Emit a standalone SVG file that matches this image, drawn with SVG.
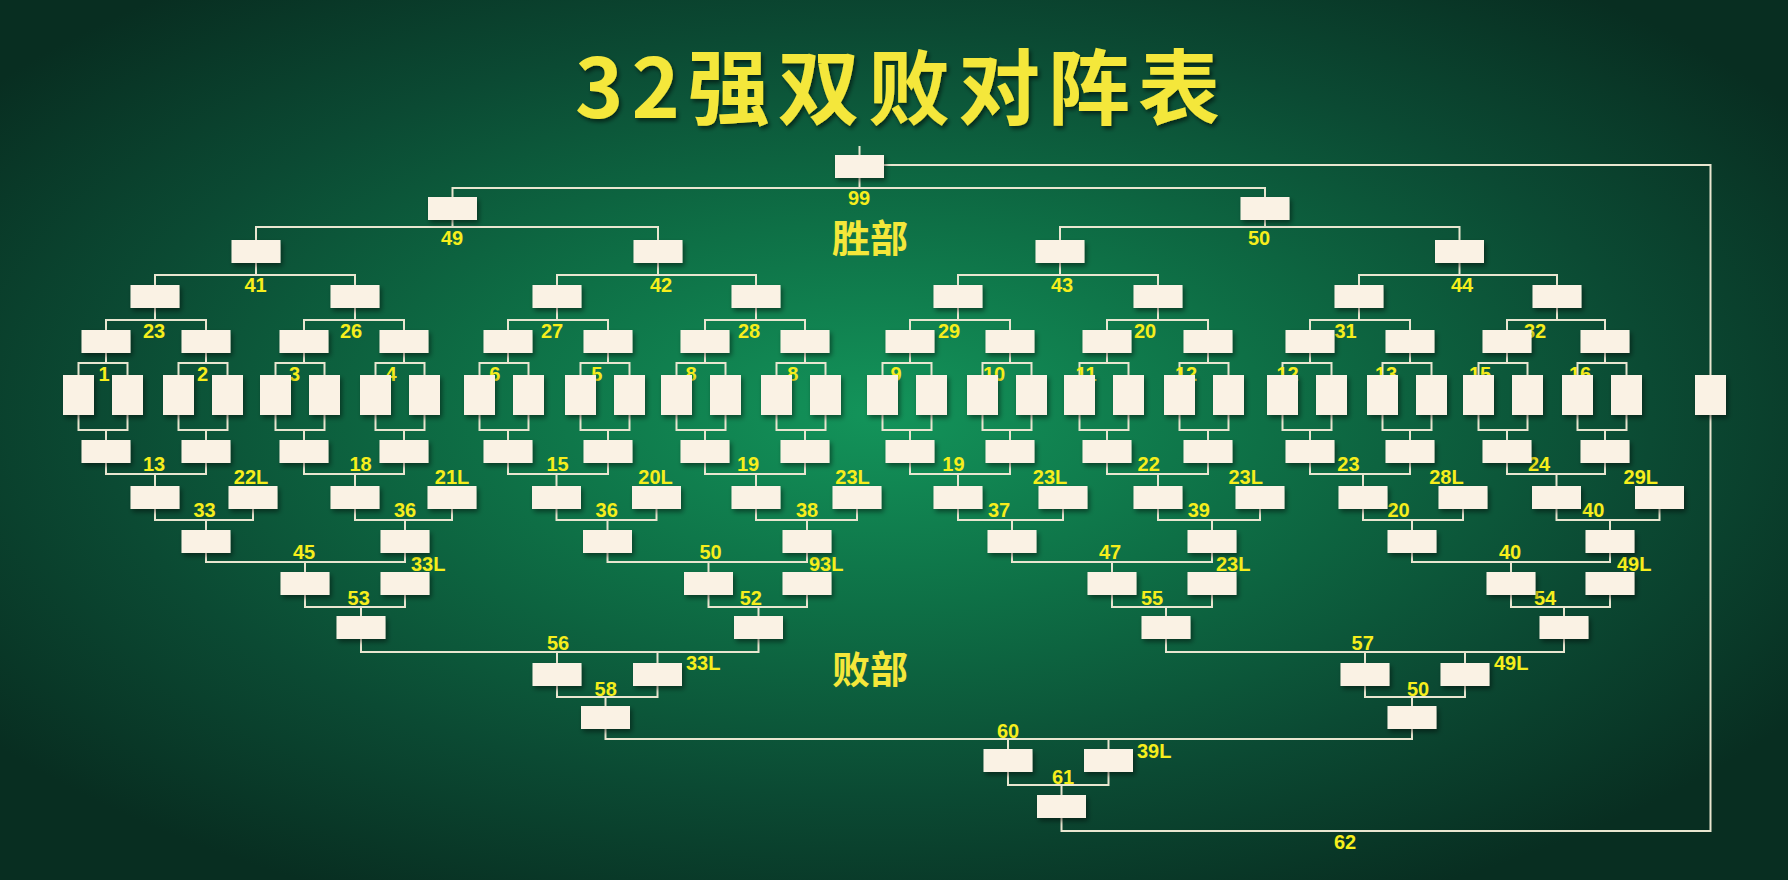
<svg xmlns="http://www.w3.org/2000/svg" xmlns:xlink="http://www.w3.org/1999/xlink" width="1788" height="880" viewBox="0 0 1788 880">
<defs>
<radialGradient id="bg" cx="0.49" cy="0.47" r="0.62">
<stop offset="0" stop-color="#13945a"/>
<stop offset="0.35" stop-color="#0e7046"/>
<stop offset="0.7" stop-color="#0b4a33"/>
<stop offset="1" stop-color="#082e21"/>
</radialGradient>
<filter id="sh" x="-30%" y="-30%" width="170%" height="180%">
<feDropShadow dx="2" dy="3" stdDeviation="2.5" flood-color="#000" flood-opacity="0.45"/>
</filter>
<filter id="tsh" x="-10%" y="-20%" width="120%" height="150%">
<feDropShadow dx="2" dy="3" stdDeviation="2" flood-color="#000" flood-opacity="0.55"/>
</filter>
<rect id="hb" width="49" height="23" fill="#FAF2E4" filter="url(#sh)"/>
<rect id="tb" width="31" height="40" fill="#FAF2E4" filter="url(#sh)"/>
</defs>
<style>
.c{fill:none;stroke:#E9E6D0;stroke-width:2}
.t{font-family:"Liberation Sans",Arial,sans-serif;font-weight:bold;font-size:20px;fill:#F6EE1C;text-anchor:middle}
.s{text-anchor:start}
.big{font-family:"Noto Sans CJK SC",sans-serif;font-weight:bold;fill:#F4E73A}
</style>
<rect width="1788" height="880" fill="url(#bg)"/>

<text class="big" x="575" y="118" font-size="82" textLength="645" lengthAdjust="spacing" filter="url(#tsh)">32强双败对阵表</text>
<text class="big" x="870" y="252" font-size="38" text-anchor="middle" fill="#F2E21E">胜部</text>
<text class="big" x="870" y="683" font-size="38" text-anchor="middle" fill="#F2E21E">败部</text>

<g id="connectors" class="c">
<path d="M859.5 146V155M859.5 178V188M452.5 197V188H1265V197"/>
<path d="M884 165H1710.5V375M1710.5 415V831H1061.5V818"/>
<path d="M256 240V227H658V240M452.5 220V227M1060 240V227H1459.5V240M1265 220V227"/>
<path d="M155 285V275H355V285M256 263V275M557 285V275H756V285M658 263V275M958 285V275H1158V285M1060 263V275M1359 285V275H1557V285M1459.5 263V275"/>
<path d="M106 330V320H206V330M155 308V320M304 330V320H404V330M355 308V320M508 330V320H608V330M557 308V320M705 330V320H805V330M756 308V320M910 330V320H1010V330M958 308V320M1107 330V320H1208V330M1158 308V320M1310 330V320H1410V330M1359 308V320M1507 330V320H1605V330M1557 308V320"/>
<path d="M78.5 375V363H127.5V375M106 353V363M178.5 375V363H227.5V375M206 353V363M275.5 375V363H324.5V375M304 353V363M375.5 375V363H424.5V375M404 353V363M479.5 375V363H528.5V375M508 353V363M580.5 375V363H629.5V375M608 353V363M676.5 375V363H725.5V375M705 353V363M776.5 375V363H825.5V375M805 353V363M882.5 375V363H931.5V375M910 353V363M982.5 375V363H1031.5V375M1010 353V363M1079.5 375V363H1128.5V375M1107 353V363M1179.5 375V363H1228.5V375M1208 353V363M1282.5 375V363H1331.5V375M1310 353V363M1382.5 375V363H1431.5V375M1410 353V363M1478.5 375V363H1527.5V375M1507 353V363M1577.5 375V363H1626.5V375M1605 353V363"/>
<path d="M78.5 415V430H127.5V415M106 430V440M178.5 415V430H227.5V415M206 430V440M275.5 415V430H324.5V415M304 430V440M375.5 415V430H424.5V415M404 430V440M479.5 415V430H528.5V415M508 430V440M580.5 415V430H629.5V415M608 430V440M676.5 415V430H725.5V415M705 430V440M776.5 415V430H825.5V415M805 430V440M882.5 415V430H931.5V415M910 430V440M982.5 415V430H1031.5V415M1010 430V440M1079.5 415V430H1128.5V415M1107 430V440M1179.5 415V430H1228.5V415M1208 430V440M1282.5 415V430H1331.5V415M1310 430V440M1382.5 415V430H1431.5V415M1410 430V440M1478.5 415V430H1527.5V415M1507 430V440M1577.5 415V430H1626.5V415M1605 430V440"/>
<path d="M106 463V474H206V463M155 474V486M304 463V474H404V463M355 474V486M508 463V474H608V463M556.5 474V486M705 463V474H805V463M756 474V486M910 463V474H1010V463M958 474V486M1107 463V474H1208V463M1158 474V486M1310 463V474H1410V463M1363 474V486M1507 463V474H1605V463M1556.5 474V486"/>
<path d="M155 509V520H253V509M206 520V530M355 509V520H452V509M405 520V530M556.5 509V520H656.5V509M607.5 520V530M756 509V520H857V509M807 520V530M958 509V520H1063V509M1012 520V530M1158 509V520H1260V509M1212 520V530M1363 509V520H1463V509M1412 520V530M1556.5 509V520H1659.5V509M1610 520V530"/>
<path d="M206 553V562H405V553M305 562V572M607.5 553V562H807V553M708.5 562V572M1012 553V562H1212V553M1112 562V572M1412 553V562H1610V553M1511 562V572"/>
<path d="M305 595V607H405V595M361 607V616M708.5 595V607H807V595M758.5 607V616M1112 595V607H1212V595M1166 607V616M1511 595V607H1610V595M1564 607V616"/>
<path d="M361 639V652H758.5V639M557 652V663M657.5 652V663M1166 639V652H1564V639M1365 652V663M1465 652V663"/>
<path d="M557 686V697H657.5V686M605.5 697V706M1365 686V697H1465V686M1412 697V706"/>
<path d="M605.5 729V739H1412V729M1008 739V749M1108.5 739V749"/>
<path d="M1008 772V785H1108.5V772M1061.5 785V795"/>
</g>

<g id="labels" class="t">
<text x="859" y="205">99</text>
<text x="452" y="245">49</text><text x="1259" y="245">50</text>
<text x="255.5" y="292">41</text><text x="661" y="292">42</text><text x="1062" y="292">43</text><text x="1462" y="292">44</text>
<text x="154" y="338">23</text><text x="351" y="338">26</text><text x="552" y="338">27</text><text x="749" y="338">28</text><text x="949" y="338">29</text><text x="1145" y="338">20</text><text x="1345.5" y="338">31</text><text x="1535" y="338">32</text>
<text x="104" y="381">1</text><text x="202.6" y="381">2</text><text x="294.5" y="381">3</text><text x="391" y="381">4</text><text x="494.7" y="381">6</text><text x="596.7" y="381">5</text><text x="691" y="381">8</text><text x="792.7" y="381">8</text><text x="896" y="381">9</text><text x="994" y="381">10</text><text x="1086" y="381">11</text><text x="1186" y="381">12</text><text x="1287.6" y="381">12</text><text x="1386" y="381">13</text><text x="1480" y="381">15</text><text x="1580" y="381">16</text>
<text x="154" y="471">13</text><text x="360.5" y="471">18</text><text x="557.6" y="471">15</text><text x="748" y="471">19</text><text x="953.4" y="471">19</text><text x="1148.7" y="471">22</text><text x="1348.4" y="471">23</text><text x="1539" y="471">24</text>
<text x="251" y="484">22L</text><text x="452" y="484">21L</text><text x="655.5" y="484">20L</text><text x="852.5" y="484">23L</text><text x="1050" y="484">23L</text><text x="1245.7" y="484">23L</text><text x="1446.4" y="484">28L</text><text x="1640.8" y="484">29L</text>
<text x="204.5" y="517">33</text><text x="405" y="517">36</text><text x="606.7" y="517">36</text><text x="807" y="517">38</text><text x="999" y="517">37</text><text x="1198.8" y="517">39</text><text x="1398.5" y="517">20</text><text x="1593.3" y="517">40</text>
<text x="304" y="559">45</text><text x="710.6" y="559">50</text><text x="1110" y="559">47</text><text x="1510" y="559">40</text>
<text class="s" x="411" y="571">33L</text><text class="s" x="809" y="571">93L</text><text class="s" x="1216" y="571">23L</text><text class="s" x="1617" y="571">49L</text>
<text x="358.7" y="605">53</text><text x="750.8" y="605">52</text><text x="1152" y="605">55</text><text x="1545" y="605">54</text>
<text x="558" y="650">56</text><text x="1362.7" y="650">57</text>
<text class="s" x="686" y="670">33L</text><text class="s" x="1494" y="670">49L</text>
<text x="605.7" y="696">58</text><text x="1418" y="696">50</text>
<text x="1008" y="738">60</text>
<text class="s" x="1137" y="758">39L</text>
<text x="1063" y="784">61</text>
<text x="1345" y="849">62</text>
</g>

<g id="n99"><use href="#hb" x="835" y="155"/></g>
<g id="n49"><use href="#hb" x="428" y="197"/></g>
<g id="n50"><use href="#hb" x="1240.5" y="197"/></g>
<g id="q41"><use href="#hb" x="231.5" y="240"/></g>
<g id="q42"><use href="#hb" x="633.5" y="240"/></g>
<g id="q43"><use href="#hb" x="1035.5" y="240"/></g>
<g id="q44"><use href="#hb" x="1435" y="240"/></g>
<g id="r16-1"><use href="#hb" x="130.5" y="285"/></g>
<g id="r16-2"><use href="#hb" x="330.5" y="285"/></g>
<g id="r16-3"><use href="#hb" x="532.5" y="285"/></g>
<g id="r16-4"><use href="#hb" x="731.5" y="285"/></g>
<g id="r16-5"><use href="#hb" x="933.5" y="285"/></g>
<g id="r16-6"><use href="#hb" x="1133.5" y="285"/></g>
<g id="r16-7"><use href="#hb" x="1334.5" y="285"/></g>
<g id="r16-8"><use href="#hb" x="1532.5" y="285"/></g>
<g id="w1"><use href="#hb" x="81.5" y="330"/></g>
<g id="w2"><use href="#hb" x="181.5" y="330"/></g>
<g id="w3"><use href="#hb" x="279.5" y="330"/></g>
<g id="w4"><use href="#hb" x="379.5" y="330"/></g>
<g id="w5"><use href="#hb" x="483.5" y="330"/></g>
<g id="w6"><use href="#hb" x="583.5" y="330"/></g>
<g id="w7"><use href="#hb" x="680.5" y="330"/></g>
<g id="w8"><use href="#hb" x="780.5" y="330"/></g>
<g id="w9"><use href="#hb" x="885.5" y="330"/></g>
<g id="w10"><use href="#hb" x="985.5" y="330"/></g>
<g id="w11"><use href="#hb" x="1082.5" y="330"/></g>
<g id="w12"><use href="#hb" x="1183.5" y="330"/></g>
<g id="w13"><use href="#hb" x="1285.5" y="330"/></g>
<g id="w14"><use href="#hb" x="1385.5" y="330"/></g>
<g id="w15"><use href="#hb" x="1482.5" y="330"/></g>
<g id="w16"><use href="#hb" x="1580.5" y="330"/></g>
<g id="p1"><use href="#tb" x="63" y="375"/><use href="#tb" x="112" y="375"/></g>
<g id="p2"><use href="#tb" x="163" y="375"/><use href="#tb" x="212" y="375"/></g>
<g id="p3"><use href="#tb" x="260" y="375"/><use href="#tb" x="309" y="375"/></g>
<g id="p4"><use href="#tb" x="360" y="375"/><use href="#tb" x="409" y="375"/></g>
<g id="p5"><use href="#tb" x="464" y="375"/><use href="#tb" x="513" y="375"/></g>
<g id="p6"><use href="#tb" x="565" y="375"/><use href="#tb" x="614" y="375"/></g>
<g id="p7"><use href="#tb" x="661" y="375"/><use href="#tb" x="710" y="375"/></g>
<g id="p8"><use href="#tb" x="761" y="375"/><use href="#tb" x="810" y="375"/></g>
<g id="p9"><use href="#tb" x="867" y="375"/><use href="#tb" x="916" y="375"/></g>
<g id="p10"><use href="#tb" x="967" y="375"/><use href="#tb" x="1016" y="375"/></g>
<g id="p11"><use href="#tb" x="1064" y="375"/><use href="#tb" x="1113" y="375"/></g>
<g id="p12"><use href="#tb" x="1164" y="375"/><use href="#tb" x="1213" y="375"/></g>
<g id="p13"><use href="#tb" x="1267" y="375"/><use href="#tb" x="1316" y="375"/></g>
<g id="p14"><use href="#tb" x="1367" y="375"/><use href="#tb" x="1416" y="375"/></g>
<g id="p15"><use href="#tb" x="1463" y="375"/><use href="#tb" x="1512" y="375"/></g>
<g id="p16"><use href="#tb" x="1562" y="375"/><use href="#tb" x="1611" y="375"/></g>
<g id="champ"><use href="#tb" x="1695" y="375"/></g>
<g id="l1-1"><use href="#hb" x="81.5" y="440"/></g>
<g id="l1-2"><use href="#hb" x="181.5" y="440"/></g>
<g id="l1-3"><use href="#hb" x="279.5" y="440"/></g>
<g id="l1-4"><use href="#hb" x="379.5" y="440"/></g>
<g id="l1-5"><use href="#hb" x="483.5" y="440"/></g>
<g id="l1-6"><use href="#hb" x="583.5" y="440"/></g>
<g id="l1-7"><use href="#hb" x="680.5" y="440"/></g>
<g id="l1-8"><use href="#hb" x="780.5" y="440"/></g>
<g id="l1-9"><use href="#hb" x="885.5" y="440"/></g>
<g id="l1-10"><use href="#hb" x="985.5" y="440"/></g>
<g id="l1-11"><use href="#hb" x="1082.5" y="440"/></g>
<g id="l1-12"><use href="#hb" x="1183.5" y="440"/></g>
<g id="l1-13"><use href="#hb" x="1285.5" y="440"/></g>
<g id="l1-14"><use href="#hb" x="1385.5" y="440"/></g>
<g id="l1-15"><use href="#hb" x="1482.5" y="440"/></g>
<g id="l1-16"><use href="#hb" x="1580.5" y="440"/></g>
<g id="l2-1"><use href="#hb" x="130.5" y="486"/></g>
<g id="l2-2"><use href="#hb" x="330.5" y="486"/></g>
<g id="l2-3"><use href="#hb" x="532" y="486"/></g>
<g id="l2-4"><use href="#hb" x="731.5" y="486"/></g>
<g id="l2-5"><use href="#hb" x="933.5" y="486"/></g>
<g id="l2-6"><use href="#hb" x="1133.5" y="486"/></g>
<g id="l2-7"><use href="#hb" x="1338.5" y="486"/></g>
<g id="l2-8"><use href="#hb" x="1532" y="486"/></g>
<g id="d22L"><use href="#hb" x="228.5" y="486"/></g>
<g id="d21L"><use href="#hb" x="427.5" y="486"/></g>
<g id="d20L"><use href="#hb" x="632" y="486"/></g>
<g id="d23L-a"><use href="#hb" x="832.5" y="486"/></g>
<g id="d23L-b"><use href="#hb" x="1038.5" y="486"/></g>
<g id="d23L-c"><use href="#hb" x="1235.5" y="486"/></g>
<g id="d28L"><use href="#hb" x="1438.5" y="486"/></g>
<g id="d29L"><use href="#hb" x="1635" y="486"/></g>
<g id="l3-1"><use href="#hb" x="181.5" y="530"/></g>
<g id="l3-2"><use href="#hb" x="380.5" y="530"/></g>
<g id="l3-3"><use href="#hb" x="583" y="530"/></g>
<g id="l3-4"><use href="#hb" x="782.5" y="530"/></g>
<g id="l3-5"><use href="#hb" x="987.5" y="530"/></g>
<g id="l3-6"><use href="#hb" x="1187.5" y="530"/></g>
<g id="l3-7"><use href="#hb" x="1387.5" y="530"/></g>
<g id="l3-8"><use href="#hb" x="1585.5" y="530"/></g>
<g id="l4-1"><use href="#hb" x="280.5" y="572"/></g>
<g id="d33L-a"><use href="#hb" x="380.5" y="572"/></g>
<g id="l4-2"><use href="#hb" x="684" y="572"/></g>
<g id="d93L"><use href="#hb" x="782.5" y="572"/></g>
<g id="l4-3"><use href="#hb" x="1087.5" y="572"/></g>
<g id="d23L-d"><use href="#hb" x="1187.5" y="572"/></g>
<g id="l4-4"><use href="#hb" x="1486.5" y="572"/></g>
<g id="d49L-a"><use href="#hb" x="1585.5" y="572"/></g>
<g id="l5-1"><use href="#hb" x="336.5" y="616"/></g>
<g id="l5-2"><use href="#hb" x="734" y="616"/></g>
<g id="l5-3"><use href="#hb" x="1141.5" y="616"/></g>
<g id="l5-4"><use href="#hb" x="1539.5" y="616"/></g>
<g id="l6-1"><use href="#hb" x="532.5" y="663"/></g>
<g id="d33L-b"><use href="#hb" x="633" y="663"/></g>
<g id="l6-2"><use href="#hb" x="1340.5" y="663"/></g>
<g id="d49L-b"><use href="#hb" x="1440.5" y="663"/></g>
<g id="l7-1"><use href="#hb" x="581" y="706"/></g>
<g id="l7-2"><use href="#hb" x="1387.5" y="706"/></g>
<g id="l8-1"><use href="#hb" x="983.5" y="749"/></g>
<g id="d39L"><use href="#hb" x="1084" y="749"/></g>
<g id="n61"><use href="#hb" x="1037" y="795"/></g>
</svg>
